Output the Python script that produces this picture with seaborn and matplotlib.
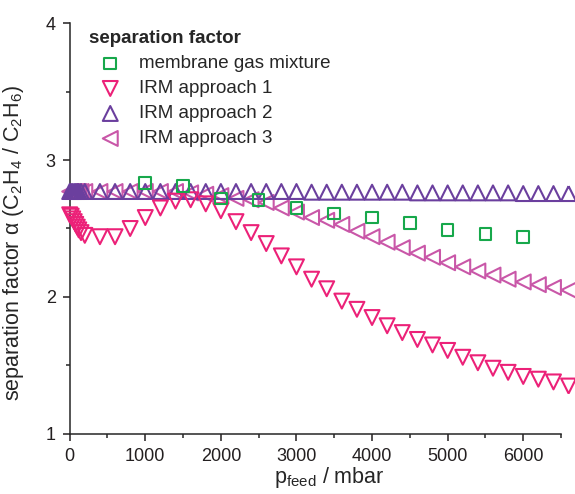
import numpy as np
import pandas as pd
import matplotlib
matplotlib.use("Agg")
import matplotlib.pyplot as plt
from matplotlib.ticker import MultipleLocator
import seaborn as sns

# --- datos ---
p_membrane = [1000, 1500, 2000, 2500, 3000, 3500, 4000, 4500, 5000, 5500, 6000]
alpha_membrane = [2.83, 2.81, 2.72, 2.71, 2.65, 2.61, 2.58, 2.54, 2.49, 2.46, 2.44]

p_irm = [0, 20, 40, 60, 80, 100, 120, 150,
         200, 400, 600, 800, 1000, 1200, 1400, 1600, 1800, 2000,
         2200, 2400, 2600, 2800, 3000, 3200, 3400, 3600, 3800, 4000,
         4200, 4400, 4600, 4800, 5000, 5200, 5400, 5600, 5800, 6000,
         6200, 6400, 6600]
alpha_irm1 = [2.60, 2.59, 2.57, 2.55, 2.53, 2.51, 2.49, 2.47,
              2.45, 2.44, 2.44, 2.50, 2.58, 2.65, 2.70, 2.71, 2.68, 2.63,
              2.55, 2.47, 2.39, 2.30, 2.22, 2.13, 2.06, 1.97, 1.91, 1.85,
              1.79, 1.74, 1.69, 1.65, 1.61, 1.56, 1.52, 1.48, 1.45, 1.42,
              1.40, 1.38, 1.35]
alpha_irm2 = [2.77, 2.77, 2.77, 2.77, 2.77, 2.77, 2.77, 2.77,
              2.77, 2.77, 2.77, 2.77, 2.77, 2.77, 2.77, 2.77, 2.77, 2.77,
              2.77, 2.77, 2.77, 2.77, 2.77, 2.765, 2.765, 2.765, 2.765, 2.765,
              2.765, 2.765, 2.76, 2.76, 2.76, 2.76, 2.76, 2.76, 2.76, 2.755,
              2.755, 2.755, 2.755]
alpha_irm3 = [2.77, 2.77, 2.77, 2.77, 2.77, 2.77, 2.77, 2.77,
              2.77, 2.77, 2.77, 2.77, 2.77, 2.77, 2.77, 2.76, 2.75, 2.74,
              2.72, 2.71, 2.69, 2.65, 2.62, 2.58, 2.56, 2.53, 2.48, 2.44,
              2.40, 2.36, 2.32, 2.29, 2.25, 2.22, 2.19, 2.16, 2.13, 2.11,
              2.09, 2.07, 2.05]

labels = ["membrane gas mixture", "IRM approach 1", "IRM approach 2", "IRM approach 3"]
colores = ["#17a84b", "#ec2178", "#6b3f9e", "#c957a8"]

# --- estilo ---
sns.set_style("ticks")
plt.rcParams["font.family"] = ["Liberation Sans", "DejaVu Sans"]
plt.rcParams["mathtext.fontset"] = "custom"
plt.rcParams["mathtext.rm"] = "Liberation Sans"
plt.rcParams["mathtext.it"] = "Liberation Sans:italic"
plt.rcParams["axes.linewidth"] = 1.1

fig = plt.figure(figsize=(5.75, 4.94), dpi=100)
ax = fig.add_axes([0.1212, 0.1215, 0.9757 - 0.1212, 0.9534 - 0.1215])

tri_s = 115
comun = dict(facecolor="none", linewidth=1.5, clip_on=False, ax=ax, zorder=3)

sns.scatterplot(x=p_irm, y=alpha_irm3, marker="<", s=tri_s,
                edgecolor=colores[3], label=labels[3], **comun)
sns.scatterplot(x=p_irm, y=alpha_irm2, marker="^", s=tri_s,
                edgecolor=colores[2], label=labels[2], **comun)
sns.scatterplot(x=p_irm, y=alpha_irm1, marker="v", s=tri_s,
                edgecolor=colores[1], label=labels[1], **comun)
sns.scatterplot(x=p_membrane, y=alpha_membrane, marker="s", s=70,
                edgecolor=colores[0], label=labels[0], **comun)

ax.set_xlim(0, 6500)
ax.set_ylim(1, 4)
ax.xaxis.set_major_locator(MultipleLocator(1000))
ax.xaxis.set_minor_locator(MultipleLocator(500))
ax.yaxis.set_major_locator(MultipleLocator(1))
ax.yaxis.set_minor_locator(MultipleLocator(0.5))
ax.tick_params(which="major", direction="out", length=5, width=1.1, labelsize=13, colors="#231f20")
ax.tick_params(axis="x", which="major", pad=5)
ax.tick_params(axis="y", which="major", pad=5)
ax.tick_params(which="minor", direction="out", length=3, width=1.1)
sns.despine(ax=ax)

ax.set_xlabel(r"p$_{\mathrm{feed}}$ / mbar", fontsize=15.5, labelpad=4)
ax.set_ylabel(r"separation factor α (C$_2$H$_4$ / C$_2$H$_6$)", fontsize=15.5, labelpad=3)
ax.xaxis.set_label_coords(0.528, -0.075)
ax.yaxis.set_label_coords(-0.088, 0.465)

handles, labs = ax.get_legend_handles_labels()
orden = [labs.index(l) for l in labels]
leg = ax.legend([handles[i] for i in orden], [labs[i] for i in orden],
                title="separation factor", loc="upper left", bbox_to_anchor=(0.012, 1.014),
                frameon=False, alignment="left", fontsize=13.5,
                title_fontproperties={"weight": "bold", "size": 13.5},
                handlelength=2.3, handletextpad=0.4, labelspacing=0.42, borderaxespad=0.3)

fig.savefig("out.png", dpi=100)
